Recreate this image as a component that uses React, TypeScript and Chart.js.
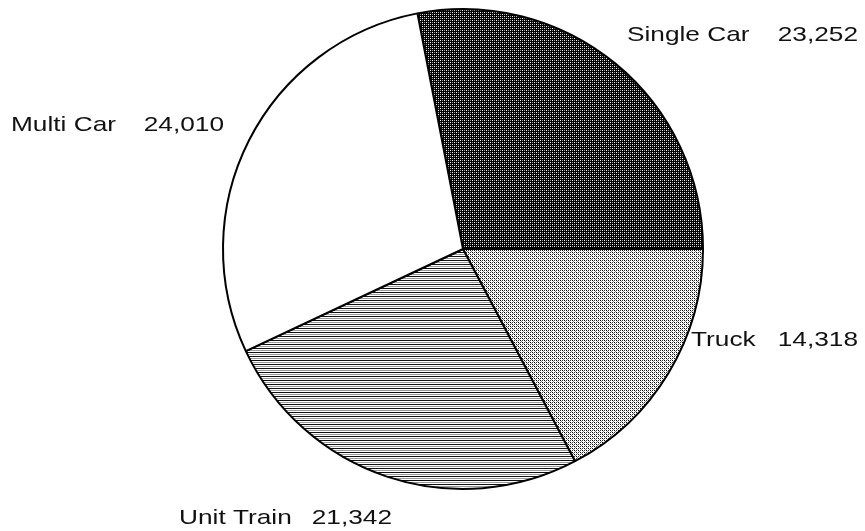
import React, { useEffect, useRef } from "react";
import { Chart, registerables } from "chart.js";

Chart.register(...registerables);

const categories = ["Single Car", "Truck", "Unit Train", "Multi Car"];
const values = [23252, 14318, 21342, 24010];
const valueLabels = ["23,252", "14,318", "21,342", "24,010"];

// label layout (name left x, value right x, baseline y)
const labelLayout = [
  { left: 627, right: 858, y: 41 },
  { left: 691, right: 858, y: 346 },
  { left: 179, right: 392, y: 524 },
  { left: 11, right: 224, y: 131 },
];

function makePattern(w: number, h: number, bg: string, pixels: [number, number, string][]) {
  const c = document.createElement("canvas");
  c.width = w;
  c.height = h;
  const ctx = c.getContext("2d")!;
  ctx.fillStyle = bg;
  ctx.fillRect(0, 0, w, h);
  for (const [x, y, col] of pixels) {
    ctx.fillStyle = col;
    ctx.fillRect(x, y, 1, 1);
  }
  return ctx.createPattern(c, "repeat")!;
}

function makeLines() {
  const c = document.createElement("canvas");
  c.width = 8;
  c.height = 4;
  const ctx = c.getContext("2d")!;
  ctx.fillStyle = "#fff";
  ctx.fillRect(0, 0, 8, 4);
  ctx.fillStyle = "#111";
  ctx.fillRect(0, 0, 8, 1);
  ctx.fillStyle = "#999";
  ctx.fillRect(0, 2, 8, 1);
  return ctx.createPattern(c, "repeat")!;
}

export default function App() {
  const ref = useRef<HTMLCanvasElement>(null);
  useEffect(() => {
    const canvas = ref.current!;
    const dark = makePattern(4, 4, "#000", [
      [0, 0, "#fff"],
      [2, 2, "#fff"],
      [2, 0, "#999"],
      [0, 2, "#999"],
    ]);
    const light = makePattern(4, 4, "#fff", [
      [0, 0, "#000"],
      [2, 2, "#000"],
      [2, 0, "#333"],
      [0, 2, "#333"],
      [1, 1, "#888"],
      [3, 3, "#888"],
    ]);
    const lines = makeLines();
    const total = values.reduce((a, b) => a + b, 0);
    const rotation = 90 - (values[0] / total) * 360;

    const labelPlugin = {
      id: "sliceLabels",
      afterDraw(chart: any) {
        const ctx = chart.ctx;
        const sx = 1.25;
        ctx.save();
        ctx.fillStyle = "#111";
        ctx.font = "21px 'Liberation Sans', Arial, sans-serif";
        ctx.textBaseline = "alphabetic";
        categories.forEach((name, i) => {
          const l = labelLayout[i];
          ctx.save();
          ctx.translate(l.left, l.y);
          ctx.scale(sx, 1);
          ctx.textAlign = "left";
          ctx.fillText(name, 0, 0);
          ctx.restore();
          ctx.save();
          ctx.translate(l.right, l.y);
          ctx.scale(sx, 1);
          ctx.textAlign = "right";
          ctx.fillText(valueLabels[i], 0, 0);
          ctx.restore();
        });
        ctx.restore();
      },
    };

    const chart = new Chart(canvas, {
      type: "pie",
      data: {
        labels: categories,
        datasets: [
          {
            data: values,
            backgroundColor: [dark, light, lines, "#ffffff"] as any,
            borderColor: "#000",
            borderWidth: 2,
            radius: 240,
          } as any,
        ],
      },
      options: {
        responsive: false,
        maintainAspectRatio: false,
        animation: false,
        rotation,
        layout: { padding: { left: 61, right: 0, top: 0, bottom: 33 } },
        plugins: {
          legend: { display: false },
          tooltip: { enabled: false },
        },
      },
      plugins: [labelPlugin],
    });
    return () => chart.destroy();
  }, []);
  return (
    <div style={{ position: "fixed", left: 0, top: 0, width: 865, height: 531, background: "#fff" }}>
      <canvas ref={ref} width={865} height={531} />
    </div>
  );
}
